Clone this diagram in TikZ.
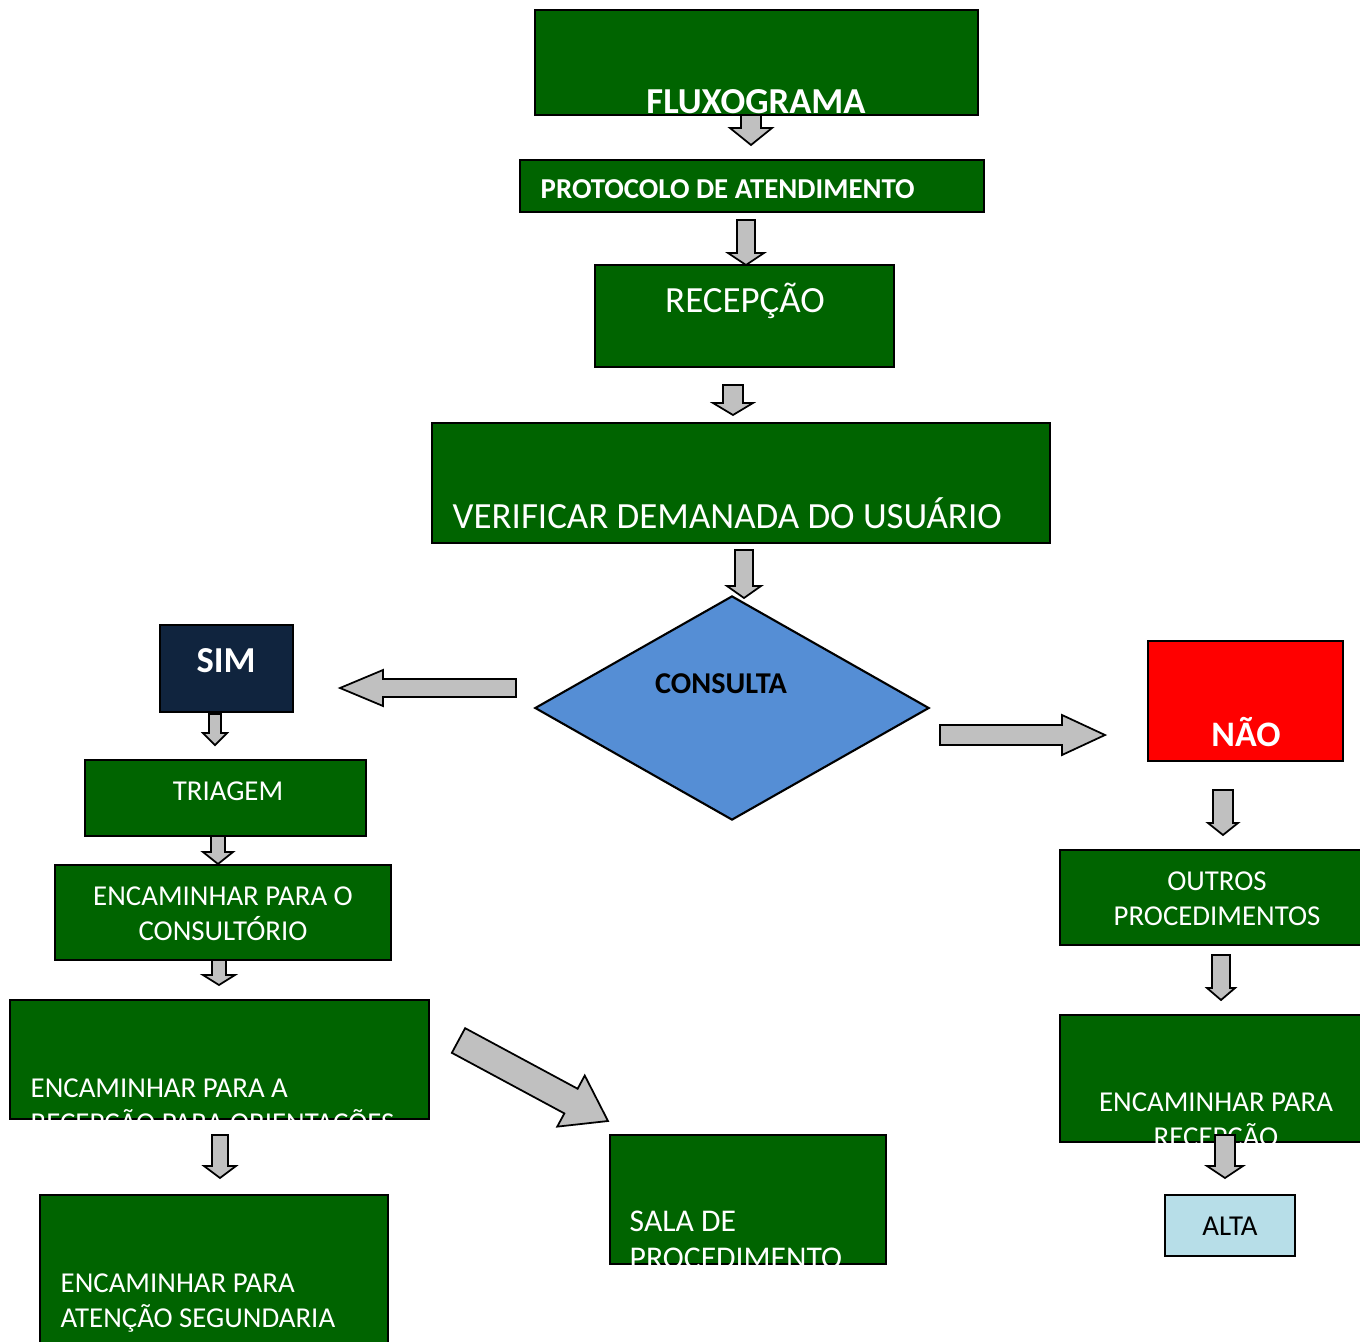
\documentclass[tikz,border=0pt]{standalone}
\usepackage{fontspec}
\setmainfont{Carlito}
\usetikzlibrary{calc,fit,shapes.geometric}
\definecolor{boxgreen}{HTML}{006400}
\definecolor{simnavy}{HTML}{10243E}
\definecolor{consultablue}{HTML}{558ED5}
\definecolor{altablue}{HTML}{B7DEE8}
\definecolor{arrowgray}{HTML}{C0C0C0}
\def\blockarrow(#1)(#2)(#3:#4:#5){\coordinate (#1-hb) at ($(#2)!#5!(#1)$);
	\draw[blockarrow] ($(#1)!#3!90:(#2)$) -- ($(#1-hb)!#3!90:(#2)$) -- ($(#1-hb)!#4!90:(#2)$) -- (#2) -- ($(#1-hb)!#4!-90:(#2)$) -- ($(#1-hb)!#3!-90:(#2)$) -- ($(#1)!#3!-90:(#2)$) -- cycle;}
\tikzset{
	flowbox/.style={draw=black, line width=0.6pt, inner sep=0pt, fill=#1},
	boxlabel/.style={text=white, inner sep=0pt, font=\fontsize{8.2}{9.9}\selectfont},
	biglabel/.style={text=white, inner sep=0pt, font=\fontsize{10.5}{12.6}\selectfont},
	blockarrow/.style={draw=black, line width=0.5pt, fill=arrowgray, line join=miter}
}
\begin{document}
\begin{tikzpicture}[x=0.01cm, y=-0.01cm]
		%%%%% START %%%%%
		\clip (0, 0) rectangle (1360, 1342);
		
		% middle column
		\node[flowbox=boxgreen, fit={(535, 10) (978, 115)}] (fluxo) {};
		\node[biglabel, font=\bfseries\fontsize{10.4}{12}\selectfont, anchor=base] (fluxotxt) at (756, 113) {FLUXOGRAMA};
		\node[flowbox=boxgreen, fit={(520, 160) (984, 212)}] (protocolo) {};
		\node[boxlabel, font=\bfseries\fontsize{8.2}{9.9}\selectfont, anchor=base west] (protocolotxt) at (540, 198) {PROTOCOLO DE ATENDIMENTO};
		\node[flowbox=boxgreen, fit={(595, 265) (894, 367)}] (recepcao) {};
		\node[biglabel, anchor=base] (recepcaotxt) at (745, 312) {RECEPÇÃO};
		\node[flowbox=boxgreen, fit={(432, 423) (1050, 543)}] (verificar) {};
		\node[biglabel, anchor=base west] (verificartxt) at (452, 528) {VERIFICAR DEMANADA DO USUÁRIO};
		
		\node[diamond, draw=black, line width=0.6pt, fill=consultablue, inner sep=0pt, minimum width=3.94cm, minimum height=2.24cm] (consulta) at (732, 708) {};
		\node[inner sep=0pt, font=\bfseries\fontsize{8.6}{10}\selectfont, anchor=base] (consultatxt) at (721, 693) {CONSULTA};
		
		% left column
		\node[flowbox=simnavy, fit={(160, 625) (293, 712)}] (sim) {};
		\node[biglabel, font=\bfseries\fontsize{10.4}{12}\selectfont, anchor=base] (simtxt) at (226, 672) {SIM};
		\node[flowbox=boxgreen, fit={(85, 760) (366, 836)}] (triagem) {};
		\node[boxlabel, anchor=base] (triagemtxt) at (228, 800) {TRIAGEM};
		\node[flowbox=boxgreen, fit={(55, 865) (391, 960)}] (consultorio) {};
		\node[boxlabel, align=center, anchor=base] (consultoriotxt) at (223, 940) {ENCAMINHAR PARA O\\CONSULTÓRIO};
		\node[flowbox=boxgreen, fit={(10, 1000) (429, 1119)}] (orientacoes) {};
		\begin{scope}
			\clip (orientacoes.south west) rectangle (orientacoes.north east);
			\node[boxlabel, align=left, anchor=base west] (orientacoestxt) at (30, 1132) {ENCAMINHAR PARA A\\RECEPÇÃO PARA ORIENTAÇÕES};
		\end{scope}
		\node[flowbox=boxgreen, fit={(40, 1195) (388, 1350)}] (atencao) {};
		\node[boxlabel, align=left, anchor=base west] (atencaotxt) at (60, 1327) {ENCAMINHAR PARA\\ATENÇÃO SEGUNDARIA};
		
		\node[flowbox=boxgreen, fit={(610, 1135) (886, 1264)}] (sala) {};
		\begin{scope}
			\clip (sala.south west) rectangle (sala.north east);
			\node[boxlabel, font=\fontsize{9}{10.5}\selectfont, align=left, anchor=base west] (salatxt) at (629, 1268) {SALA DE\\PROCEDIMENTO};
		\end{scope}
		
		% right column
		\node[flowbox=red, fit={(1148, 641) (1343, 761)}] (nao) {};
		\node[biglabel, font=\bfseries\fontsize{10.2}{12}\selectfont, anchor=base] (naotxt) at (1246, 746) {NÃO};
		\node[flowbox=boxgreen, fit={(1060, 850) (1370, 945)}] (outros) {};
		\node[boxlabel, align=center, anchor=base] (outrostxt) at (1217, 925) {OUTROS\\PROCEDIMENTOS};
		\node[flowbox=boxgreen, fit={(1060, 1015) (1370, 1142)}] (voltar) {};
		\begin{scope}
			\clip (voltar.south west) rectangle (voltar.north east);
			\node[boxlabel, align=center, anchor=base] (voltartxt) at (1216, 1146) {ENCAMINHAR PARA\\RECEPÇÃO};
		\end{scope}
		\node[flowbox=altablue, fit={(1165, 1195) (1295, 1256)}] (alta) {};
		\node[boxlabel, text=black, anchor=base] (altatxt) at (1230, 1235) {ALTA};
		
		% arrows
		\coordinate (a1s) at (751, 115);   \coordinate (a1e) at (751, 145);
		\coordinate (a2s) at (746, 220);   \coordinate (a2e) at (746, 265);
		\coordinate (a3s) at (733, 385);   \coordinate (a3e) at (733, 415);
		\coordinate (a4s) at (744, 550);   \coordinate (a4e) at (744, 598);
		\coordinate (sims) at (516, 688);  \coordinate (sime) at (340, 688);
		\coordinate (naos) at (940, 735);  \coordinate (naoe) at (1105, 735);
		\coordinate (l1s) at (215, 714);   \coordinate (l1e) at (215, 745);
		\coordinate (l2s) at (218, 836);   \coordinate (l2e) at (218, 864);
		\coordinate (l3s) at (219, 960);   \coordinate (l3e) at (219, 985);
		\coordinate (l4s) at (220, 1135);  \coordinate (l4e) at (220, 1178);
		\coordinate (ds) at (458.5, 1040.5); \coordinate (de) at (608, 1121);
		\coordinate (r1s) at (1223, 790);  \coordinate (r1e) at (1223, 835);
		\coordinate (r2s) at (1221, 955);  \coordinate (r2e) at (1221, 1000);
		\coordinate (r3s) at (1225, 1135); \coordinate (r3e) at (1225, 1178);
		
		\blockarrow(a1s)(a1e)(0.10cm:0.21cm:0.17cm)
		\blockarrow(a2s)(a2e)(0.09cm:0.18cm:0.12cm)
		\blockarrow(a3s)(a3e)(0.10cm:0.20cm:0.12cm)
		\blockarrow(a4s)(a4e)(0.09cm:0.17cm:0.12cm)
		\blockarrow(sims)(sime)(0.09cm:0.18cm:0.43cm)
		\blockarrow(naos)(naoe)(0.10cm:0.20cm:0.43cm)
		\blockarrow(l1s)(l1e)(0.06cm:0.12cm:0.12cm)
		\blockarrow(l2s)(l2e)(0.07cm:0.15cm:0.12cm)
		\blockarrow(l3s)(l3e)(0.07cm:0.16cm:0.10cm)
		\blockarrow(l4s)(l4e)(0.08cm:0.16cm:0.12cm)
		\blockarrow(ds)(de)(0.14cm:0.29cm:0.42cm)
		\blockarrow(r1s)(r1e)(0.10cm:0.15cm:0.12cm)
		\blockarrow(r2s)(r2e)(0.09cm:0.14cm:0.12cm)
		\blockarrow(r3s)(r3e)(0.10cm:0.18cm:0.12cm)
		%%%%% END %%%%%
\end{tikzpicture}
\end{document}
